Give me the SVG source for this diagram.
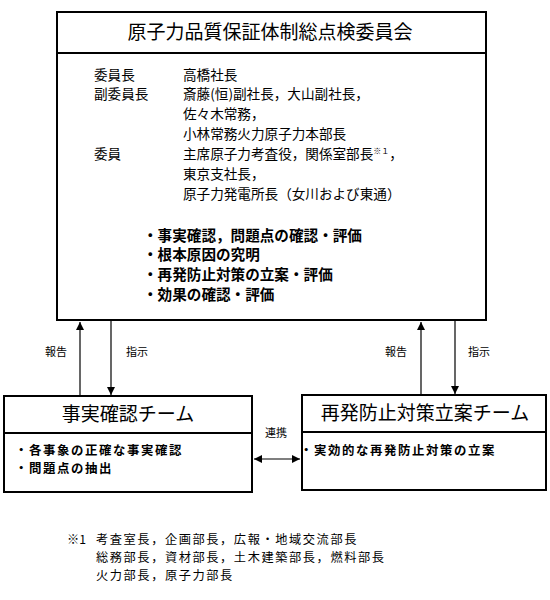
<svg xmlns="http://www.w3.org/2000/svg" width="550" height="600" viewBox="0 0 550 600">
<defs>
<style>
text{font-family:"MS Gothic","Noto Sans CJK JP",sans-serif;fill:#000}
.box{fill:#fff;stroke:#000;stroke-width:2}
.sep{stroke:#000;stroke-width:2}
.title{font-size:19px;text-anchor:middle}
.t13{font-size:13.6px}
.fn{font-size:12.2px;letter-spacing:1.6px}
.b14{font-size:14.6px;font-weight:bold}
.b13{font-size:12.4px;font-weight:bold;letter-spacing:1.6px}
.lbl{font-size:11px}
.ln{stroke:#000;stroke-width:1.2;fill:none}
</style>
<marker id="ah" viewBox="0 0 10 10" refX="10" refY="5" markerWidth="8" markerHeight="8" markerUnits="userSpaceOnUse" orient="auto-start-reverse">
<path d="M0,0 L10,5 L0,10 z" fill="#000"/>
</marker>
</defs>
<rect width="550" height="600" fill="#fff"/>
<g id="committee">
<rect class="box" x="57" y="12" width="429" height="308"/>
<line class="sep" x1="57" y1="53" x2="486" y2="53"/>
<text class="title" x="270" y="39">原子力品質保証体制総点検委員会</text>
<text class="t13" x="94" y="80">委員長</text>
<text class="t13" x="94" y="99">副委員長</text>
<text class="t13" x="94" y="159">委員</text>
<text class="t13" x="183" y="80">高橋社長</text>
<text class="t13" x="183" y="99">斎藤(恒)副社長，大山副社長，</text>
<text class="t13" x="183" y="119">佐々木常務，</text>
<text class="t13" x="183" y="139">小林常務火力原子力本部長</text>
<text class="t13" x="183" y="159">主席原子力考査役，関係室部長<tspan font-size="8" dy="-5">※１</tspan><tspan dy="5">，</tspan></text>
<text class="t13" x="183" y="179">東京支社長，</text>
<text class="t13" x="183" y="199">原子力発電所長（女川および東通）</text>
<text class="b14" x="143" y="241">・事実確認，問題点の確認・評価</text>
<text class="b14" x="143" y="260">・根本原因の究明</text>
<text class="b14" x="143" y="280">・再発防止対策の立案・評価</text>
<text class="b14" x="143" y="300">・効果の確認・評価</text>
</g>
<g id="fact-team">
<rect class="box" x="4" y="396" width="248" height="96"/>
<line class="sep" x1="4" y1="433" x2="252" y2="433"/>
<text class="title" x="128" y="421">事実確認チーム</text>
<text class="b13" x="15" y="455">・各事象の正確な事実確認</text>
<text class="b13" x="15" y="473">・問題点の抽出</text>
</g>
<g id="prevent-team">
<rect class="box" x="302" y="395" width="244" height="95"/>
<line class="sep" x1="302" y1="432" x2="546" y2="432"/>
<text class="title" x="425" y="420">再発防止対策立案チーム</text>
<text class="b13" x="300" y="455">・実効的な再発防止対策の立案</text>
</g>
<g id="connectors">
<line class="ln" x1="80" y1="395" x2="80" y2="322" marker-end="url(#ah)"/>
<line class="ln" x1="111" y1="321" x2="111" y2="395" marker-end="url(#ah)"/>
<line class="ln" x1="421" y1="394" x2="421" y2="322" marker-end="url(#ah)"/>
<line class="ln" x1="455" y1="321" x2="455" y2="394" marker-end="url(#ah)"/>
<line class="ln" x1="254" y1="459" x2="300" y2="459" marker-start="url(#ah)" marker-end="url(#ah)"/>
<text class="lbl" x="45" y="356">報告</text>
<text class="lbl" x="126" y="356">指示</text>
<text class="lbl" x="385" y="356">報告</text>
<text class="lbl" x="468" y="356">指示</text>
<text class="lbl" x="265" y="437">連携</text>
</g>
<g id="footnote">
<text class="fn" x="67" y="544" style="letter-spacing:0">※1</text>
<text class="fn" x="96" y="544">考査室長，企画部長，広報・地域交流部長</text>
<text class="fn" x="96" y="562">総務部長，資材部長，土木建築部長，燃料部長</text>
<text class="fn" x="96" y="580">火力部長，原子力部長</text>
</g>
</svg>
